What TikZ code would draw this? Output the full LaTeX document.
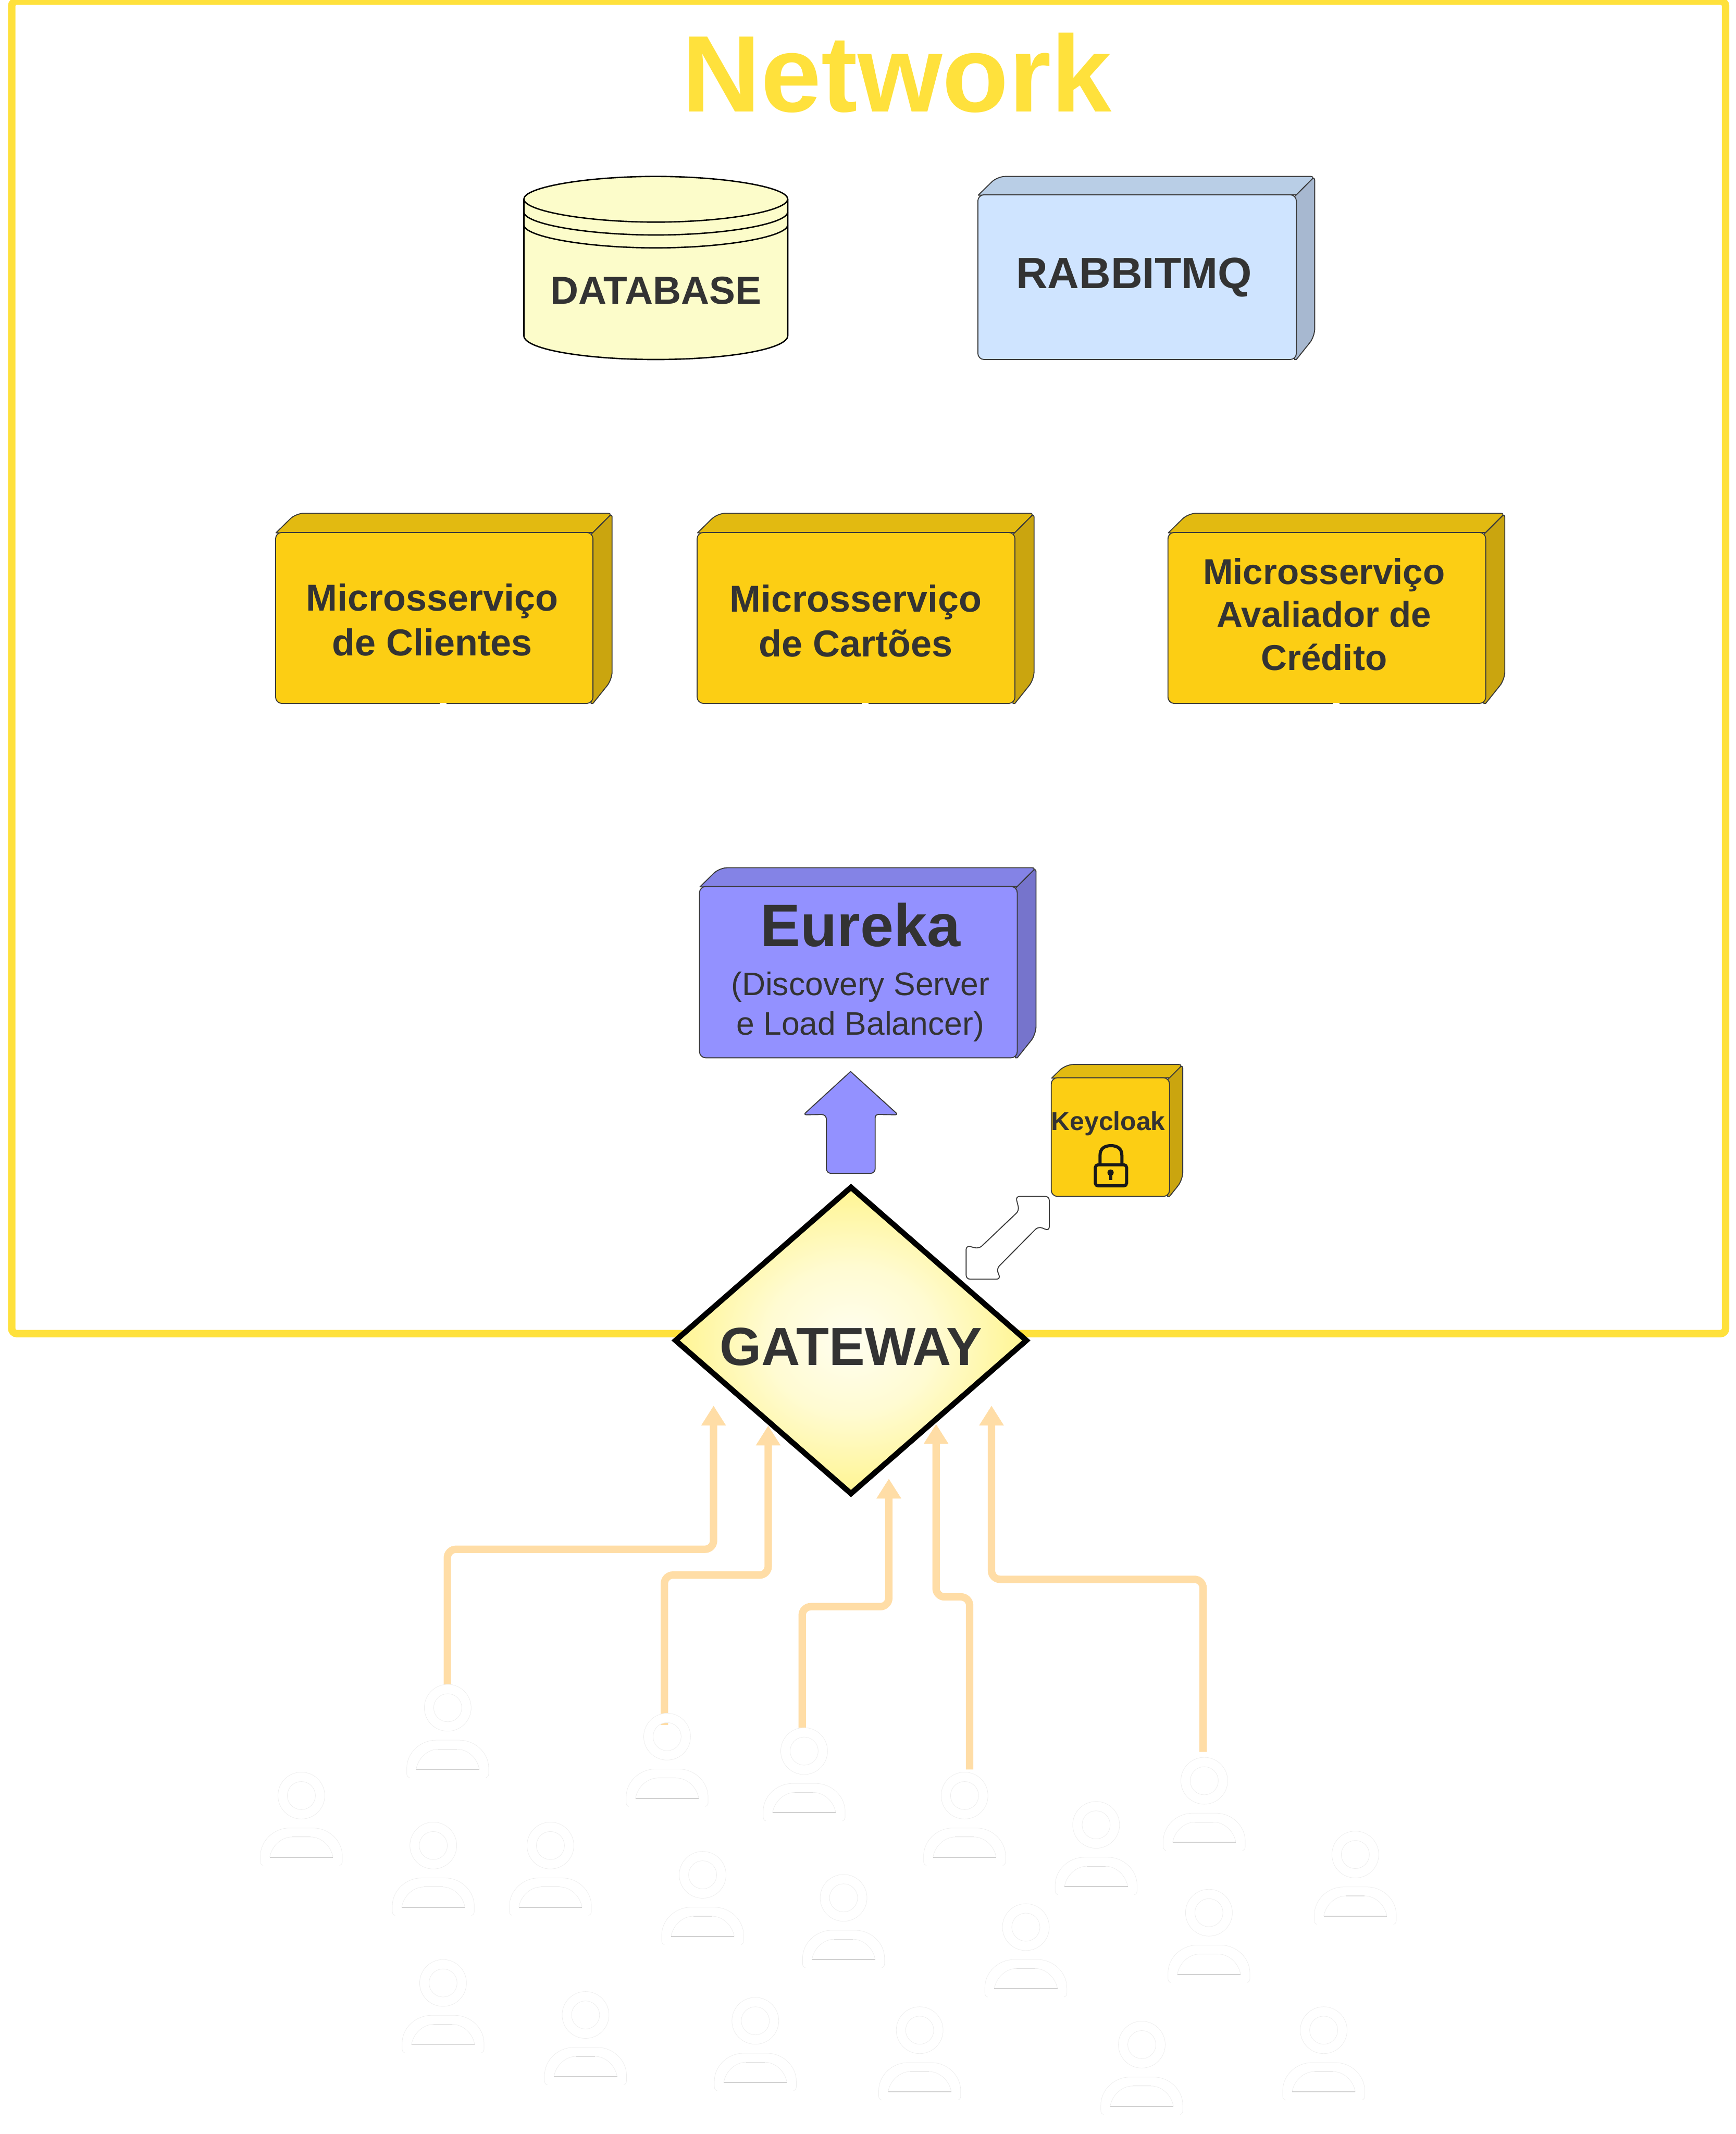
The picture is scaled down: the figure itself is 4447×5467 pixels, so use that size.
\documentclass[tikz,border=0pt]{standalone}
\usepackage{fontspec}
\setmainfont{Liberation Sans}
\usetikzlibrary{arrows.meta,shapes.geometric}
\definecolor{netyellow}{HTML}{FFE13C}
\definecolor{inktext}{HTML}{333333}
\definecolor{edgeink}{HTML}{3A3A3A}
\definecolor{goldfront}{HTML}{FCCE14}
\definecolor{goldtop}{HTML}{E2BA11}
\definecolor{goldside}{HTML}{CAA50F}
\definecolor{violetfront}{HTML}{9391FF}
\definecolor{violettop}{HTML}{8483E6}
\definecolor{violetside}{HTML}{7674CC}
\definecolor{bluefront}{HTML}{CFE4FF}
\definecolor{bluetop}{HTML}{B9CEE6}
\definecolor{blueside}{HTML}{A7B8D0}
\definecolor{dbfill}{HTML}{FCFCCA}
\definecolor{flow}{HTML}{FFDDA6}
\definecolor{gwa}{HTML}{FFFEF0}
\definecolor{gwa2}{HTML}{FFFBD2}
\definecolor{gwb}{HTML}{FFF592}
\definecolor{gwc}{HTML}{FFF27A}
\pgfdeclareradialshading{gatewayglow}{\pgfpoint{0bp}{0bp}}{color(0bp)=(gwa); color(12bp)=(gwa2); color(25bp)=(gwb); color(50bp)=(gwc)}
\tikzset{
  edgeline/.style={draw=edgeink,line width=0.025cm,line join=round},
  frontface/.style={edgeline,rounded corners=0.16cm,inner sep=0pt,outer sep=0pt,anchor=north west},
  boxlabel/.style={text=inktext,inner sep=0pt,outer sep=0pt,align=center},
  flowline/.style={draw=flow,line width=0.19cm,rounded corners=0.22cm,-{Triangle[length=0.51cm,width=0.60cm]}},
  faintline/.style={draw=black!7,line width=0.01cm},
  darkline/.style={draw=black!18,line width=0.025cm},
  person/.pic={
    \fill[white,even odd rule] (0,60) circle[radius=60] (0,60) circle[radius=36];
    \draw[faintline] (0,60) circle[radius=60];
    \draw[faintline] (0,60) circle[radius=36];
    \draw[faintline] (-98,239) .. controls (-103,237) and (-105,234) .. (-105,228) -- (-105,215) .. controls (-105,175) and (-70,143) .. (-30,143) -- (30,143) .. controls (70,143) and (105,175) .. (105,215) -- (105,228) .. controls (105,234) and (103,237) .. (98,239);
    \draw[faintline] (-81,218) .. controls (-76,188) and (-50,166) .. (-24,166) -- (24,166) .. controls (50,166) and (76,188) .. (81,218);
    \draw[darkline] (-81,218) -- (81,218);
    \draw[draw=black!13,line width=0.015cm] (-24,166) -- (24,166);
  }
}
% name, x1, y1, x2, y2, depth, front, top, side
\newcommand{\solidbox}[9]{%
  \draw[edgeline,fill=#9] (#4-5,#3+5) [rounded corners=0.1cm] -- (#4+#6,#3-#6) [rounded corners=0.2cm] -- (#4+#6,#5-1.25*#6) [sharp corners] -- (#4,#5) -- (#4-5,#5) -- cycle;
  \draw[edgeline,fill=#8] (#2+1,#3+1) [rounded corners=0.2cm] -- (#2+#6+3,#3-#6) [rounded corners=0.1cm] -- (#4+#6,#3-#6) [sharp corners] -- (#4,#3) -- cycle;
  \node[frontface,fill=#7,minimum width={(#4-#2)*0.01cm},minimum height={(#5-#3)*0.01cm}] (#1) at (#2,#3) {};
}
\begin{document}
\begin{tikzpicture}[x=0.01cm,y=-0.01cm]
\useasboundingbox (0,0) rectangle (4447,5467);
\fill[white] (0,0) rectangle (4447,5467);

% network frame
\node[draw=netyellow,line width=0.19cm,rounded corners=0.13cm,minimum width=43.88cm,minimum height=34.12cm,inner sep=0pt,outer sep=0pt,anchor=north west] (network) at (30,2.5) {};
\node[anchor=base,text=netyellow,inner sep=0pt,font=\fontsize{79.3}{90}\selectfont\bfseries] (nettitle) at (2298,286) {Network};

% database
\draw[draw=black,line width=0.035cm,fill=dbfill] (1342,510) -- (1342,860) .. controls (1342,895) and (1500,921) .. (1680,921) .. controls (1860,921) and (2018,895) .. (2018,860) -- (2018,510) .. controls (2018,480) and (1860,452) .. (1680,452) .. controls (1500,452) and (1342,480) .. (1342,510) -- cycle;
\draw[draw=black,line width=0.035cm] (1342,510) .. controls (1342,540) and (1500,569) .. (1680,569) .. controls (1860,569) and (2018,540) .. (2018,510);
\draw[draw=black,line width=0.035cm] (1342,543) .. controls (1342,573) and (1500,602) .. (1680,602) .. controls (1860,602) and (2018,573) .. (2018,543);
\draw[draw=black,line width=0.035cm] (1342,576) .. controls (1342,606) and (1500,635) .. (1680,635) .. controls (1860,635) and (2018,606) .. (2018,576);
\node[anchor=base,boxlabel,font=\fontsize{28.4}{32}\selectfont\bfseries] (dblabel) at (1680,779) {DATABASE};

% rabbit
\solidbox{rabbit}{2505}{499}{3321}{921}{47}{bluefront}{bluetop}{blueside}
\node[anchor=base,boxlabel,font=\fontsize{31.9}{38}\selectfont\bfseries] (rabbitlabel) at (2905,739) {RABBITMQ};

% microservices
\solidbox{clientes}{706}{1364}{1519}{1802}{49}{goldfront}{goldtop}{goldside}
\fill[white] (1126,1800) rectangle (1144,1805);
\node[boxlabel,font=\fontsize{27.3}{32.7}\selectfont\bfseries] (clienteslabel) at (1107,1588) {Microsserviço\\de Clientes};

\solidbox{cartoes}{1786}{1364}{2600}{1802}{49}{goldfront}{goldtop}{goldside}
\fill[white] (2207,1800) rectangle (2225,1805);
\node[boxlabel,font=\fontsize{27.3}{32.7}\selectfont\bfseries] (cartoeslabel) at (2192,1591) {Microsserviço\\de Cartões};

\solidbox{credito}{2992}{1364}{3806}{1802}{49}{goldfront}{goldtop}{goldside}
\fill[white] (3414,1800) rectangle (3432,1805);
\node[boxlabel,font=\fontsize{26.2}{31.3}\selectfont\bfseries] (creditolabel) at (3392,1574) {Microsserviço\\Avaliador de\\Crédito};

% eureka
\solidbox{eureka}{1792}{2271}{2606}{2710}{48}{violetfront}{violettop}{violetside}
\node[anchor=base,boxlabel,font=\fontsize{43.7}{50}\selectfont\bfseries] (eurekalabel) at (2204,2424) {Eureka};
\node[boxlabel,font=\fontsize{23.7}{28.7}\selectfont] (eurekasub) at (2204,2579) {(Discovery Server\\e Load Balancer)};

% up arrow
\draw[edgeline,fill=violetfront] (2179,2745) [rounded corners=0.08cm] -- (2301,2856) -- (2242,2855) [rounded corners=0.12cm] -- (2242,3006) -- (2117,3006) -- (2117,2855) [rounded corners=0.08cm] -- (2058,2856) [sharp corners] -- cycle;

% keycloak
\solidbox{keycloak}{2693}{2761}{2996}{3065}{34}{goldfront}{goldtop}{goldside}
\node[anchor=base,boxlabel,font=\fontsize{18.9}{22}\selectfont\bfseries] (keylabel) at (2839,2895) {Keycloak};
\draw[draw=black!90,line width=0.08cm,rounded corners=0.07cm] (2806,2984) rectangle (2886,3038);
\draw[draw=black!90,line width=0.08cm] (2818,2984) -- (2818,2960) .. controls (2818,2942) and (2830,2935) .. (2846,2935) .. controls (2862,2935) and (2874,2942) .. (2874,2960) -- (2874,2984);
\fill[black!90] (2845,3004) circle[radius=8];
\fill[black!90] (2841,3004) rectangle (2849,3023);

% double arrow
\draw[edgeline,fill=white,rounded corners=0.1cm] (2688,3065) -- (2688,3153) -- (2660,3142) -- (2553,3250) -- (2563,3277) -- (2475,3277) -- (2475,3191) -- (2508,3199) -- (2611,3101) -- (2602,3065) -- cycle;

% gateway
\node[diamond,draw=black,line width=0.14cm,shading=gatewayglow,minimum width=8.98cm,minimum height=7.84cm,inner sep=0pt,outer sep=0pt] (gateway) at (2180,3434) {};
\node[anchor=base,boxlabel,font=\fontsize{39.1}{48}\selectfont\bfseries] (gatewaylabel) at (2180,3497) {GATEWAY};

% flows
\coordinate (s1) at (1146,4315); \coordinate (t1) at (1828,3601);
\coordinate (s2) at (1702,4419); \coordinate (t2) at (1968,3652);
\coordinate (s3) at (2055,4426); \coordinate (t3) at (2277,3788);
\coordinate (s4) at (2484,4533); \coordinate (t4) at (2398,3648);
\coordinate (s5) at (3082,4488); \coordinate (t5) at (2540,3601);
\draw[flowline] (s1) -- (1146,3969) -- (1828,3969) -- (t1);
\draw[flowline] (s2) -- (1702,4035) -- (1968,4035) -- (t2);
\draw[flowline] (s3) -- (2055,4116) -- (2277,4116) -- (t3);
\draw[flowline] (s4) -- (2484,4091) -- (2398,4091) -- (t4);
\draw[flowline] (s5) -- (3082,4046) -- (2540,4046) -- (t5);

% people
\pic (p1) at (1147,4315) {person};
\pic (p2) at (772,4540) {person};
\pic (p3) at (1110,4668) {person};
\pic (p4) at (1410,4668) {person};
\pic (p5) at (1709,4389) {person};
\pic (p6) at (2060,4426) {person};
\pic (p7) at (2471,4540) {person};
\pic (p8) at (3085,4502) {person};
\pic (p9) at (2808,4615) {person};
\pic (p10) at (1800,4743) {person};
\pic (p11) at (2161,4802) {person};
\pic (p12) at (2628,4877) {person};
\pic (p13) at (3097,4840) {person};
\pic (p14) at (3472,4691) {person};
\pic (p15) at (1135,5020) {person};
\pic (p16) at (1500,5102) {person};
\pic (p17) at (1935,5117) {person};
\pic (p18) at (2356,5141) {person};
\pic (p19) at (2925,5178) {person};
\pic (p20) at (3391,5141) {person};
\end{tikzpicture}
\end{document}
